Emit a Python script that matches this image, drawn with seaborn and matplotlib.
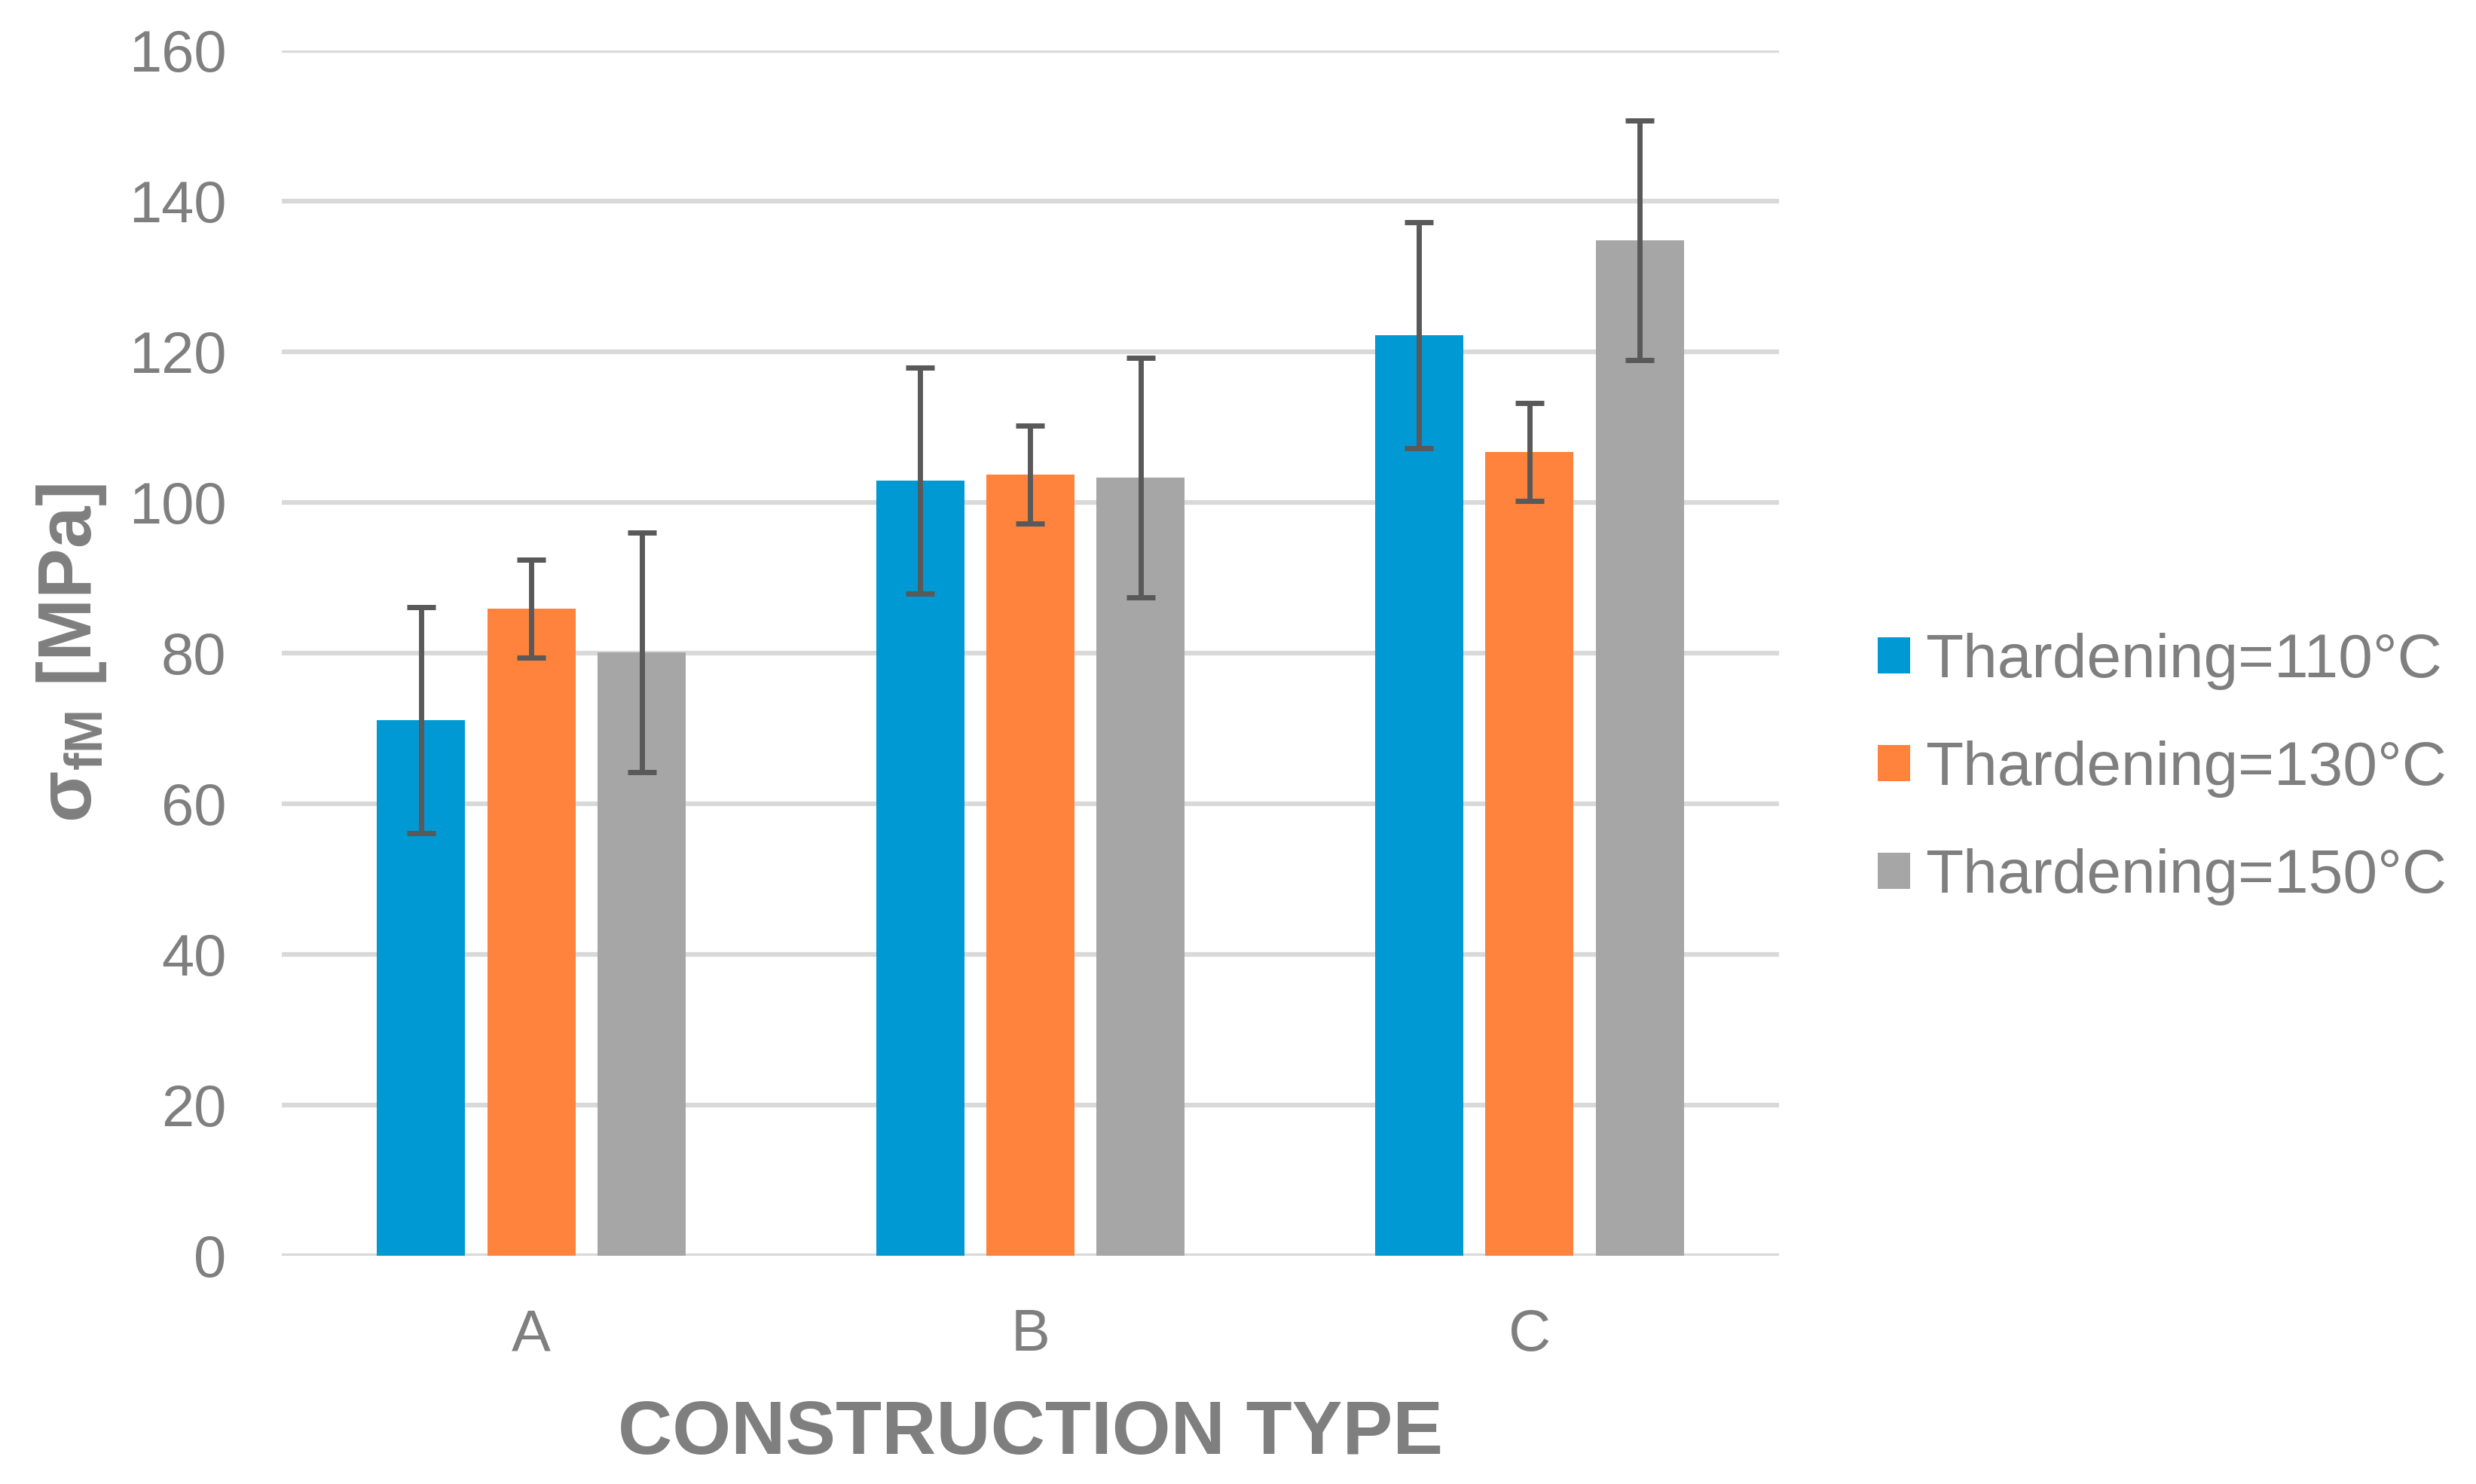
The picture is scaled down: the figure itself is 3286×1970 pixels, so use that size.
import matplotlib
matplotlib.use("Agg")
import matplotlib.pyplot as plt
import matplotlib.patches as mpatches
import seaborn as sns
import pandas as pd

categories = ["A", "B", "C"]
series = ["Thardening=110°C", "Thardening=130°C", "Thardening=150°C"]
vals_110 = [71.1, 102.9, 122.2]
vals_130 = [85.9, 103.7, 106.7]
vals_150 = [80.1, 103.3, 134.8]
err_110 = [15.0, 15.0, 15.0]
err_130 = [6.5, 6.5, 6.5]
err_150 = [15.9, 15.9, 15.9]
colors = ["#0099D3", "#FF833C", "#A6A6A6"]
y_ticks = [0, 20, 40, 60, 80, 100, 120, 140, 160]

values = [vals_110, vals_130, vals_150]
errors = [err_110, err_130, err_150]
rows = []
for s, vs in zip(series, values):
    for c, v in zip(categories, vs):
        rows.append({"type": c, "value": v, "series": s})
df = pd.DataFrame(rows)

sns.set_style("white")
plt.rcParams["font.family"] = ["Liberation Sans", "DejaVu Sans"]
plt.rcParams["mathtext.default"] = "regular"

TXT = "#7F7F7F"
GRID = "#D9D9D9"
EBAR = "#595959"

fig = plt.figure(figsize=(32.87, 19.70), dpi=100)
ax = fig.add_axes([374 / 3287, 1 - 1667 / 1970, (2361 - 374) / 3287, 1600 / 1970])

sns.barplot(data=df, x="type", y="value", hue="series", order=categories,
            hue_order=series, palette=colors, width=0.663, gap=0.2,
            errorbar=None, saturation=1, linewidth=0, ax=ax, zorder=2)
if ax.get_legend() is not None:
    ax.get_legend().remove()

for cont, vs, es in zip(ax.containers, values, errors):
    xs = [b.get_x() + b.get_width() / 2 for b in cont]
    ax.errorbar(xs, vs, yerr=es, fmt="none", ecolor=EBAR, elinewidth=5,
                capsize=14, capthick=5, zorder=3)

ax.set_xlim(-0.5, 2.5)
ax.set_ylim(0, 160)
ax.set_yticks(y_ticks)
ax.yaxis.grid(True, color=GRID, linewidth=4.5, zorder=0)
ax.xaxis.grid(False)
ax.set_axisbelow(True)
for sp in ax.spines.values():
    sp.set_visible(False)
ax.tick_params(axis="both", length=0, labelsize=56, labelcolor=TXT)
ax.tick_params(axis="y", pad=53)
ax.tick_params(axis="x", pad=50)

ax.set_xlabel("CONSTRUCTION TYPE", fontsize=72, fontweight="bold", color=TXT, labelpad=34)
ax.set_ylabel(r"σ$_{\mathregular{fM}}$ [MPa]", fontsize=72, fontweight="bold", color=TXT)
ax.yaxis.set_label_coords(-0.116, 0.5)

handles = [mpatches.Patch(facecolor=c, edgecolor="none", label=s) for c, s in zip(colors, series)]
fig.legend(handles=handles, loc="center left", bbox_to_anchor=(2492 / 3287, 1 - 1021 / 1970),
           frameon=False, fontsize=59, labelcolor=TXT, handlelength=0.52, handleheight=0.52,
           handletextpad=0.25, labelspacing=0.82, borderpad=0, borderaxespad=0)

fig.savefig("out.png", dpi=100)
